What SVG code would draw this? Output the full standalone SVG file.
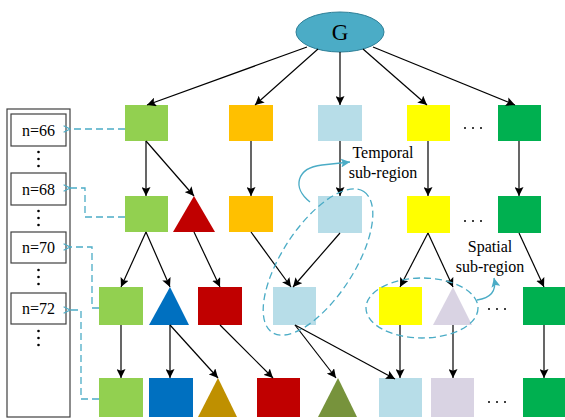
<svg xmlns="http://www.w3.org/2000/svg" width="565" height="420" viewBox="0 0 565 420">
<style>
.a{stroke:#000;stroke-width:1.2;fill:none;marker-end:url(#ah)}
.d{stroke:#4bacc6;stroke-width:1.3;fill:none;stroke-dasharray:7 4}
.da{marker-end:url(#oh)}
.dot{fill:#000}
</style>
<defs>
<marker id="ah" viewBox="0 0 10 10" refX="10" refY="5" markerWidth="9" markerHeight="9" markerUnits="userSpaceOnUse" orient="auto"><path d="M0,0 L10,5 L0,10 L2,5 z" fill="#000"/></marker>
<marker id="oh" viewBox="0 0 10 10" refX="1" refY="5" markerWidth="8" markerHeight="8" markerUnits="userSpaceOnUse" orient="auto"><path d="M9,1 L1,5 L9,9" fill="none" stroke="#4bacc6" stroke-width="1.4"/></marker>
<marker id="bh" viewBox="0 0 10 10" refX="10" refY="5" markerWidth="9" markerHeight="9" markerUnits="userSpaceOnUse" orient="auto"><path d="M0,0 L10,5 L0,10 L2,5 z" fill="#4bacc6"/></marker>
</defs>

<g id="panel" font-family="'Liberation Serif', 'DejaVu Serif', serif" font-size="16" text-anchor="middle">
<rect x="7" y="109" width="63" height="308" fill="#fff" stroke="#404040" stroke-width="1.2"/>
<g id="n66"><rect x="11" y="114" width="55" height="32" fill="#fff" stroke="#404040" stroke-width="1.2"/><text x="38.5" y="136">n=66</text></g>
<g id="n68"><rect x="11" y="173" width="55" height="32" fill="#fff" stroke="#404040" stroke-width="1.2"/><text x="38.5" y="195">n=68</text></g>
<g id="n70"><rect x="11" y="232" width="55" height="31" fill="#fff" stroke="#404040" stroke-width="1.2"/><text x="38.5" y="253">n=70</text></g>
<g id="n72"><rect x="11" y="293" width="55" height="31" fill="#fff" stroke="#404040" stroke-width="1.2"/><text x="38.5" y="314">n=72</text></g>
<g class="dot">
<circle cx="38.5" cy="152" r="1.3"/><circle cx="38.5" cy="159" r="1.3"/><circle cx="38.5" cy="166" r="1.3"/>
<circle cx="38.5" cy="211" r="1.3"/><circle cx="38.5" cy="218" r="1.3"/><circle cx="38.5" cy="225" r="1.3"/>
<circle cx="38.5" cy="270" r="1.3"/><circle cx="38.5" cy="277" r="1.3"/><circle cx="38.5" cy="284" r="1.3"/>
<circle cx="38.5" cy="331" r="1.3"/><circle cx="38.5" cy="338" r="1.3"/><circle cx="38.5" cy="345" r="1.3"/>
</g>
</g>

<g id="G"><ellipse cx="340" cy="32" rx="44" ry="20" fill="#4bacc6" stroke="#2e7f97" stroke-width="1"/><text x="340" y="40" font-family="'Liberation Serif', 'DejaVu Serif', serif" font-size="23" text-anchor="middle">G</text></g>

<g id="r1">
<rect id="r1a" x="125" y="105" width="43" height="36" fill="#92d050"/>
<rect id="r1b" x="229" y="105" width="44" height="36" fill="#ffc000"/>
<rect id="r1c" x="318" y="105" width="44" height="36" fill="#b7dde8"/>
<rect id="r1d" x="407" y="105" width="43" height="36" fill="#ffff00"/>
<rect id="r1e" x="498" y="105" width="43" height="36" fill="#00b050"/>
</g>
<g id="r2">
<rect id="r2a" x="125" y="196" width="43" height="36" fill="#92d050"/>
<polygon id="r2b" points="194,196 215,232 173,232" fill="#c00000"/>
<rect id="r2c" x="229" y="196" width="44" height="36" fill="#ffc000"/>
<rect id="r2d" x="318" y="196" width="44" height="37" fill="#b7dde8"/>
<rect id="r2e" x="407" y="196" width="43" height="37" fill="#ffff00"/>
<rect id="r2f" x="498" y="196" width="43" height="37" fill="#00b050"/>
</g>
<g id="r3">
<rect id="r3a" x="99" y="287" width="44" height="38" fill="#92d050"/>
<polygon id="r3b" points="170,287 189,325 149,325" fill="#0070c0"/>
<rect id="r3c" x="198" y="287" width="44" height="38" fill="#c00000"/>
<rect id="r3d" x="273" y="287" width="43" height="38" fill="#b7dde8"/>
<rect id="r3e" x="379" y="287" width="43" height="38" fill="#ffff00"/>
<polygon id="r3f" points="453,287 472,325 433,325" fill="#d9d3e3"/>
<rect id="r3g" x="523" y="287" width="43" height="38" fill="#00b050"/>
</g>
<g id="r4">
<rect id="r4a" x="99" y="378" width="44" height="39" fill="#92d050"/>
<rect id="r4b" x="149" y="378" width="44" height="39" fill="#0070c0"/>
<polygon id="r4c" points="218,378 237,417 198,417" fill="#bf9000"/>
<rect id="r4d" x="257" y="378" width="43" height="39" fill="#c00000"/>
<polygon id="r4e" points="338,378 357,417 318,417" fill="#77933c"/>
<rect id="r4f" x="379" y="378" width="43" height="39" fill="#b7dde8"/>
<rect id="r4g" x="431" y="378" width="43" height="39" fill="#d9d3e3"/>
<rect id="r4h" x="523" y="378" width="43" height="39" fill="#00b050"/>
</g>
<g id="ellipsis" class="dot">
<circle cx="465" cy="128" r="1"/><circle cx="473" cy="128" r="1"/><circle cx="481" cy="128" r="1"/>
<circle cx="465" cy="221" r="1"/><circle cx="473" cy="221" r="1"/><circle cx="481" cy="221" r="1"/>
<circle cx="489" cy="309" r="1"/><circle cx="497" cy="309" r="1"/><circle cx="505" cy="309" r="1"/>
<circle cx="489" cy="402" r="1"/><circle cx="497" cy="402" r="1"/><circle cx="505" cy="402" r="1"/>
</g>

<g id="connectors">
<path class="a" d="M307,47 L147,105"/>
<path class="a" d="M318,49 L255,105"/>
<path class="a" d="M340,52 L340,105"/>
<path class="a" d="M363,49 L427,105"/>
<path class="a" d="M373,47 L515,105"/>
<path class="a" d="M146,141 L146,196"/>
<path class="a" d="M146,141 L194,196"/>
<path class="a" d="M251,141 L251,196"/>
<path class="a" d="M340,141 L340,196"/>
<path class="a" d="M428,141 L428,196"/>
<path class="a" d="M519,141 L519,196"/>
<path class="a" d="M146,232 L121,287"/>
<path class="a" d="M146,232 L170,287"/>
<path class="a" d="M194,232 L220,287"/>
<path class="a" d="M251,232 L291,287"/>
<path class="a" d="M340,233 L293,287"/>
<path class="a" d="M428,233 L400,287"/>
<path class="a" d="M428,233 L453,287"/>
<path class="a" d="M519,233 L544,287"/>
<path class="a" d="M121,325 L121,378"/>
<path class="a" d="M170,325 L170,378"/>
<path class="a" d="M170,325 L218,378"/>
<path class="a" d="M220,325 L273,378"/>
<path class="a" d="M295,325 L336,378"/>
<path class="a" d="M295,325 L395,379"/>
<path class="a" d="M400,325 L400,378"/>
<path class="a" d="M453,325 L453,378"/>
<path class="a" d="M544,325 L544,378"/>
<path class="d da" d="M125,129 L70,129"/>
<path class="d da" d="M125,217 L85,217 L85,188 L70,188"/>
<path class="d da" d="M99,308 L92,308 L92,247 L70,247"/>
<path class="d da" d="M99,399 L81,399 L81,310 L70,310"/>
</g>

<g id="temporal" font-family="'Liberation Serif', 'DejaVu Serif', serif" font-size="16" text-anchor="middle">
<ellipse class="d" cx="318" cy="262" rx="84" ry="36" transform="rotate(-57 318 262)"/>
<path d="M310,202 C292,188 296,168 322,165 L350,162" fill="none" stroke="#4bacc6" stroke-width="1.4" marker-end="url(#bh)"/>
<text x="383" y="158">Temporal</text>
<text x="383" y="178">sub-region</text>
</g>
<g id="spatial" font-family="'Liberation Serif', 'DejaVu Serif', serif" font-size="16" text-anchor="middle">
<ellipse class="d" cx="422" cy="308" rx="56" ry="30"/>
<path d="M477,300 C490,298 497,292 494,278" fill="none" stroke="#4bacc6" stroke-width="1.4" marker-end="url(#bh)"/>
<text x="490" y="252">Spatial</text>
<text x="490" y="272">sub-region</text>
</g>
</svg>
